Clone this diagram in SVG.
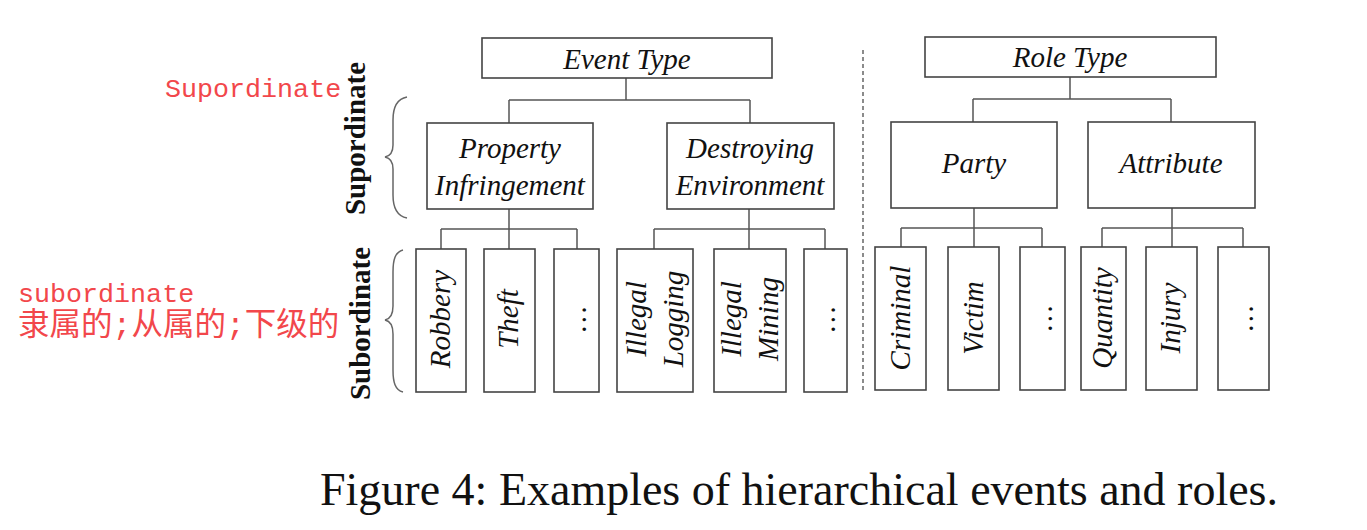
<svg xmlns="http://www.w3.org/2000/svg" width="1367" height="530" viewBox="0 0 1367 530">
<style>
.box{fill:#fff;stroke:#444;stroke-width:1.6}
.con{fill:none;stroke:#555;stroke-width:1.5}
.lbl{font-family:"Liberation Serif","Times New Roman",serif;font-style:italic;font-size:29px;fill:#111}
.side{font-family:"Liberation Serif","Times New Roman",serif;font-weight:bold;font-size:29px;fill:#111}
.red{font-family:"Liberation Mono","Noto Sans CJK SC",monospace;fill:#f2474b}
.cap{font-family:"Liberation Serif","Times New Roman",serif;font-size:46px;fill:#111}
.brace{fill:none;stroke:#666;stroke-width:1.5}
</style>
<rect width="1367" height="530" fill="#fff"/>
<g id="connectors">
<path class="con" d="M626,78 V100 M509,100 H750 M509,100 V123 M750,100 V123"/>
<path class="con" d="M1070,77 V99 M973,99 H1171 M973,99 V122 M1171,99 V122"/>
<path class="con" d="M509,209 V229 M441,229 H577 M441,229 V249 M509,229 V249 M577,229 V249"/>
<path class="con" d="M749,209 V229 M654,229 H825 M654,229 V249 M749,229 V249 M825,229 V249"/>
<path class="con" d="M974,208 V228 M901,228 H1042 M901,228 V247 M974,228 V247 M1042,228 V247"/>
<path class="con" d="M1172,208 V228 M1102,228 H1243 M1102,228 V247 M1172,228 V247 M1243,228 V247"/>
<line x1="863" y1="50" x2="863" y2="392" stroke="#666" stroke-width="1.5" stroke-dasharray="4,3"/>
</g>
<g id="event-type"><rect class="box" x="482" y="38" width="290" height="40"/><text class="lbl" x="627" y="69" text-anchor="middle">Event Type</text></g>
<g id="role-type"><rect class="box" x="925" y="37" width="291" height="40"/><text class="lbl" x="1070" y="67" text-anchor="middle">Role Type</text></g>
<g id="property-infringement"><rect class="box" x="427" y="123" width="166" height="86"/><text class="lbl" x="510" y="158" text-anchor="middle">Property</text><text class="lbl" x="510" y="195" text-anchor="middle">Infringement</text></g>
<g id="destroying-environment"><rect class="box" x="667" y="123" width="167" height="86"/><text class="lbl" x="750" y="158" text-anchor="middle">Destroying</text><text class="lbl" x="750" y="195" text-anchor="middle">Environment</text></g>
<g id="party"><rect class="box" x="891" y="122" width="166" height="86"/><text class="lbl" x="974" y="173" text-anchor="middle">Party</text></g>
<g id="attribute"><rect class="box" x="1088" y="122" width="167" height="86"/><text class="lbl" x="1171" y="173" text-anchor="middle">Attribute</text></g>
<g id="robbery"><rect class="box" x="416" y="249" width="50" height="143"/><text class="lbl" transform="translate(450,319) rotate(-90)" text-anchor="middle">Robbery</text></g>
<g id="theft"><rect class="box" x="484" y="249" width="51" height="143"/><text class="lbl" transform="translate(518,319) rotate(-90)" text-anchor="middle">Theft</text></g>
<g id="more-1"><rect class="box" x="554" y="249" width="45" height="143"/><text class="lbl" transform="translate(586,319) rotate(-90)" text-anchor="middle">…</text></g>
<g id="illegal-logging"><rect class="box" x="617" y="249" width="76" height="143"/><text class="lbl" transform="translate(645.5,319) rotate(-90)" text-anchor="middle"><tspan x="0" y="0">Illegal</tspan><tspan x="0" y="37">Logging</tspan></text></g>
<g id="illegal-mining"><rect class="box" x="714" y="249" width="72" height="143"/><text class="lbl" transform="translate(740.5,319) rotate(-90)" text-anchor="middle"><tspan x="0" y="0">Illegal</tspan><tspan x="0" y="37">Mining</tspan></text></g>
<g id="more-2"><rect class="box" x="804" y="249" width="43" height="143"/><text class="lbl" transform="translate(835,319) rotate(-90)" text-anchor="middle">…</text></g>
<g id="criminal"><rect class="box" x="875" y="247" width="51" height="143"/><text class="lbl" transform="translate(910,318) rotate(-90)" text-anchor="middle">Criminal</text></g>
<g id="victim"><rect class="box" x="948" y="247" width="51" height="143"/><text class="lbl" transform="translate(983,318) rotate(-90)" text-anchor="middle">Victim</text></g>
<g id="more-3"><rect class="box" x="1020" y="247" width="45" height="143"/><text class="lbl" transform="translate(1052,318) rotate(-90)" text-anchor="middle">…</text></g>
<g id="quantity"><rect class="box" x="1081" y="247" width="45" height="143"/><text class="lbl" transform="translate(1112,318) rotate(-90)" text-anchor="middle">Quantity</text></g>
<g id="injury"><rect class="box" x="1146" y="247" width="51" height="143"/><text class="lbl" transform="translate(1180,318) rotate(-90)" text-anchor="middle">Injury</text></g>
<g id="more-4"><rect class="box" x="1218" y="247" width="51" height="143"/><text class="lbl" transform="translate(1253,318) rotate(-90)" text-anchor="middle">…</text></g>
<g id="side-labels">
<text class="side" transform="translate(365,138.5) rotate(-90)" text-anchor="middle">Supordinate</text>
<text class="side" transform="translate(370,323.5) rotate(-90)" text-anchor="middle">Subordinate</text>
<path class="brace" d="M407,97 C396,99 393,108 393,120 L393,145 C393,153 390,156 385,157 C390,158 393,161 393,169 L393,195 C393,207 396,216 407,218"/>
<path class="brace" d="M403,250 C395,252 393,260 393,272 L393,306 C393,315 390,319 385,320 C390,321 393,325 393,334 L393,370 C393,382 395,390 403,392"/>
</g>
<g id="annotations">
<text class="red" x="165" y="97" font-size="26.7">Supordinate</text>
<text class="red" x="18" y="302" font-size="26.7">subordinate</text>
<text class="red" x="18" y="335" font-size="31.5">隶属的;从属的;下级的</text>
</g>
<text class="cap" x="320" y="505">Figure 4: Examples of hierarchical events and roles.</text>
</svg>
